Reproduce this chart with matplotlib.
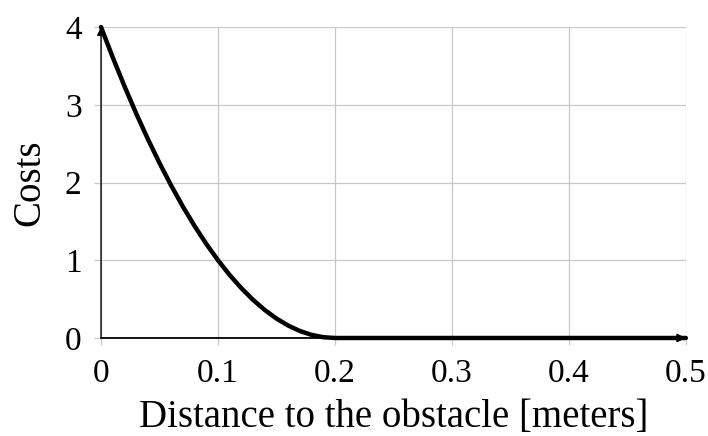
import matplotlib
matplotlib.use('Agg')
import matplotlib.pyplot as plt

# values
distance = [0.0, 0.01, 0.02, 0.03, 0.04, 0.05, 0.06, 0.07, 0.08, 0.09, 0.10,
            0.11, 0.12, 0.13, 0.14, 0.15, 0.16, 0.17, 0.18, 0.19, 0.20, 0.50]
costs = [4.0, 3.61, 3.24, 2.89, 2.56, 2.25, 1.96, 1.69, 1.44, 1.21, 1.0,
         0.81, 0.64, 0.49, 0.36, 0.25, 0.16, 0.09, 0.04, 0.01, 0.0, 0.0]
xticks = [0, 0.1, 0.2, 0.3, 0.4, 0.5]
xticklabels = ['0', '0.1', '0.2', '0.3', '0.4', '0.5']
yticks = [0, 1, 2, 3, 4]

plt.rcParams['font.family'] = ['Liberation Serif', 'DejaVu Serif']

fig = plt.figure(figsize=(7.08, 4.36), dpi=100)
ax = fig.add_axes([0.1427, 0.2248, 0.826, 0.7132])

ax.plot(distance, costs, color='black', lw=3.2, clip_on=False, zorder=5,
        solid_capstyle='round')

ax.set_xlim(0, 0.5)
ax.set_ylim(0, 4)
ax.set_xticks(xticks)
ax.set_xticklabels(xticklabels)
ax.set_yticks(yticks)
ax.grid(True, color='#c8c8c8', lw=0.9)
ax.tick_params(axis='both', length=5, width=0.9, color='#c8c8c8',
               labelsize=24)
ax.tick_params(axis='x', pad=10)
ax.tick_params(axis='y', pad=9)

for s in ax.spines.values():
    s.set_visible(False)

# axes with arrows
ax.annotate('', xy=(1.0, 0), xytext=(0, 0), xycoords='axes fraction',
            arrowprops=dict(arrowstyle='-|>', color='black', lw=1.3,
                            mutation_scale=12, shrinkA=0, shrinkB=0), zorder=6)
ax.annotate('', xy=(0, 1.0), xytext=(0, 0), xycoords='axes fraction',
            arrowprops=dict(arrowstyle='-|>', color='black', lw=1.0,
                            mutation_scale=12, shrinkA=0, shrinkB=0), zorder=6)

ax.set_xlabel('Distance to the obstacle [meters]', fontsize=28, labelpad=7)
ax.set_ylabel('Costs', fontsize=28, labelpad=12)

plt.savefig('out.png', dpi=100)
